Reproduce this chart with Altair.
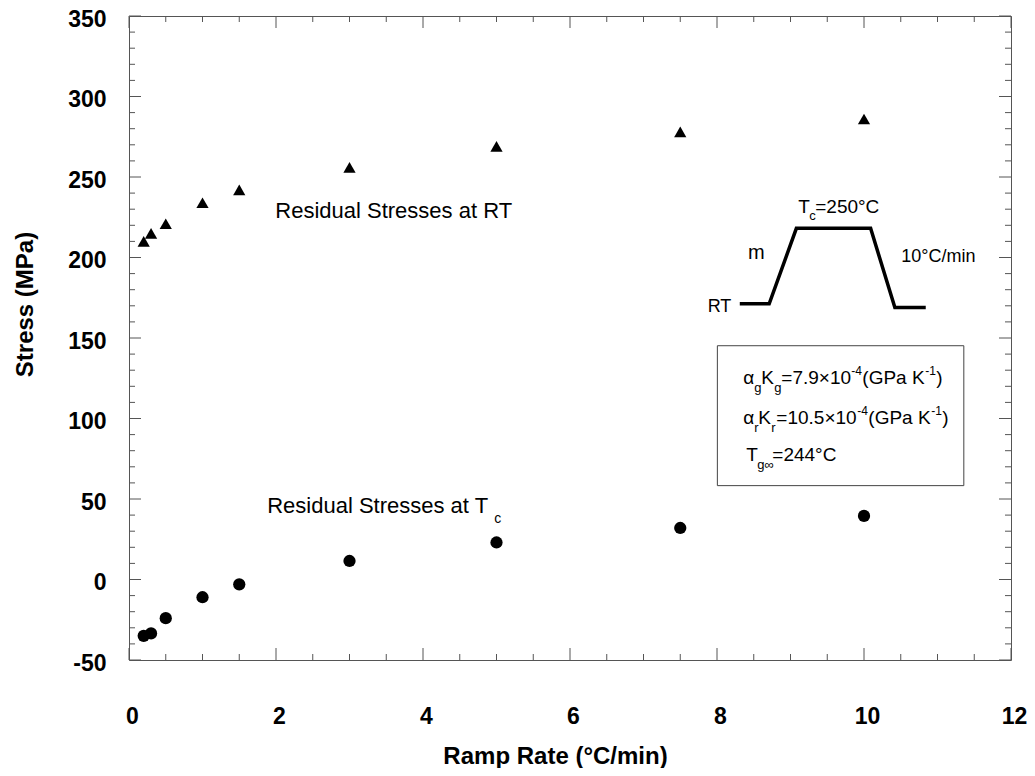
import altair as alt
import pandas as pd

# ---- data ----
rate = [0.2, 0.3, 0.5, 1.0, 1.5, 3.0, 5.0, 7.5, 10.0]
stress_rt = [210, 215, 221, 234, 242, 256, 269, 278, 286]
stress_tc = [-35, -33.5, -24, -11, -3, 11.5, 23, 32, 39.5]

x_major = [0, 2, 4, 6, 8, 10, 12]
x_minor = [0.5, 1, 1.5, 2.5, 3, 3.5, 4.5, 5, 5.5, 6.5, 7, 7.5, 8.5, 9, 9.5, 10.5, 11, 11.5]
y_major = [-50, 0, 50, 100, 150, 200, 250, 300, 350]
y_minor = [-40, -30, -20, -10, 10, 20, 30, 40, 60, 70, 80, 90, 110, 120, 130, 140,
           160, 170, 180, 190, 210, 220, 230, 240, 260, 270, 280, 290, 310, 320, 330, 340]

# inset schematic (temperature profile), in data units
sched_x = [8.31, 8.71, 9.08, 10.09, 10.42, 10.84]
sched_y = [171.2, 171.2, 218.1, 218.1, 168.9, 168.9]
box_x = [8.005, 11.358]
box_y = [58.3, 145.2]

W, H = 882, 644
FONT = "Liberation Sans"
TICK = "#555555"
xs = alt.Scale(domain=[0, 12], nice=False, zero=False)
ys = alt.Scale(domain=[-50, 350], nice=False, zero=False)

pts = pd.DataFrame({"rate": rate, "rt": stress_rt, "tc": stress_tc})

x_axis = alt.Axis(values=x_major, title="Ramp Rate (°C/min)", grid=False, ticks=False, tickSize=0,
                  domain=False, labelFont=FONT, labelFontSize=23, labelFontWeight="bold",
                  labelColor="black", labelPadding=45, labelOffset=3, labelFlush=False,
                  titleFont=FONT, titleFontSize=24, titleFontWeight="bold", titleColor="black",
                  titleX=426, titleY=103, titleBaseline="alphabetic", titleAlign="center")
y_axis = alt.Axis(values=y_major, title="Stress (MPa)", grid=False, ticks=False, tickSize=0,
                  domain=False, labelFont=FONT, labelFontSize=23, labelFontWeight="bold",
                  labelColor="black", labelPadding=23, labelOffset=3, labelFlush=False,
                  labelExpr="datum.value < 0 ? '-' + abs(datum.value) : '' + datum.value",
                  titleFont=FONT, titleFontSize=24, titleFontWeight="bold", titleColor="black",
                  titleX=-104, titleY=288, titleAngle=270, titleBaseline="middle", titleAlign="center")

tri = alt.Chart(pts).mark_point(shape="triangle-up", filled=True, size=150, color="black",
                                opacity=1, strokeWidth=0).encode(
    x=alt.X("rate:Q", scale=xs, axis=x_axis),
    y=alt.Y("rt:Q", scale=ys, axis=y_axis),
)
circ = alt.Chart(pts).mark_circle(size=150, color="black", opacity=1).encode(
    x=alt.X("rate:Q", scale=xs, axis=x_axis),
    y=alt.Y("tc:Q", scale=ys, axis=y_axis),
)

one = pd.DataFrame({"a": [0]})


def txt(s, x, y, size=19, dx=0, dy=0, align="left", weight="normal"):
    return alt.Chart(one).mark_text(
        text=s, align=align, baseline="alphabetic", dx=dx, dy=dy, fontSize=size,
        font=FONT, fontWeight=weight, color="black"
    ).encode(x=alt.XDatum(x, axis=x_axis, scale=xs), y=alt.YDatum(y, axis=y_axis, scale=ys))


def ticks_x(vals, y1, y2):
    return alt.Chart(pd.DataFrame({"v": vals})).mark_rule(color=TICK, strokeWidth=1).encode(
        x=alt.X("v:Q", scale=xs, axis=x_axis), y=alt.value(y1), y2=alt.value(y2))


def ticks_y(vals, x1, x2):
    return alt.Chart(pd.DataFrame({"v": vals})).mark_rule(color=TICK, strokeWidth=1).encode(
        y=alt.Y("v:Q", scale=ys, axis=y_axis), x=alt.value(x1), x2=alt.value(x2))


tick_layers = [
    ticks_x(x_major, H, H - 12), ticks_x(x_minor, H, H - 6),
    ticks_x(x_major, 0, 12), ticks_x(x_minor, 0, 6),
    ticks_y(y_major, 0, 12), ticks_y(y_minor, 0, 6),
    ticks_y(y_major, W, W - 12), ticks_y(y_minor, W, W - 6),
]

box = alt.Chart(one).mark_rect(fill="white", stroke="#444444", strokeWidth=1).encode(
    x=alt.XDatum(box_x[0], axis=x_axis, scale=xs), x2=alt.datum(box_x[1]),
    y=alt.YDatum(box_y[0], axis=y_axis, scale=ys), y2=alt.datum(box_y[1]),
)

sched = alt.Chart(pd.DataFrame({"sx": sched_x, "sy": sched_y, "o": list(range(len(sched_x)))})).mark_line(
    color="black", strokeWidth=3.5, strokeJoin="miter").encode(
    x=alt.X("sx:Q", scale=xs, axis=x_axis), y=alt.Y("sy:Q", scale=ys, axis=y_axis), order="o:Q")

L1, L2, L3, BX = 121.2, 96.4, 73.8, 8.358
texts = [
    txt("Residual Stresses at RT", 1.99, 224.3, size=22),
    txt("Residual Stresses at T", 1.88, 41.5, size=22),
    txt("c", 1.88, 41.5, size=14, dx=227, dy=10),
    # schematic labels
    txt("T", 9.105, 227.4),
    txt("c", 9.105, 227.4, size=13, dx=11, dy=7),
    txt("=250°C", 9.105, 227.4, dx=17),
    txt("m", 8.535, 198.9, size=20, align="center"),
    txt("10°C/min", 10.508, 197.4, size=18),
    txt("RT", 8.195, 166.4, size=18, align="right"),
    # box line 1
    txt("α", BX, L1),
    txt("g", BX, L1, size=13, dx=11, dy=8),
    txt("K", BX, L1, dx=18),
    txt("g", BX, L1, size=13, dx=31, dy=8),
    txt("=7.9×10", BX, L1, dx=38),
    txt("-4", BX, L1, size=12, dx=108, dy=-9),
    txt("(GPa K", BX, L1, dx=119),
    txt("-1", BX, L1, size=12, dx=182, dy=-9),
    txt(")", BX, L1, dx=193),
    # box line 2
    txt("α", BX, L2),
    txt("r", BX, L2, size=13, dx=11, dy=8),
    txt("K", BX, L2, dx=15),
    txt("r", BX, L2, size=13, dx=28, dy=8),
    txt("=10.5×10", BX, L2, dx=33),
    txt("-4", BX, L2, size=12, dx=114, dy=-9),
    txt("(GPa K", BX, L2, dx=125),
    txt("-1", BX, L2, size=12, dx=188, dy=-9),
    txt(")", BX, L2, dx=199),
    # box line 3
    txt("T", BX, L3, dx=3),
    txt("g∞", BX, L3, size=13, dx=14, dy=8),
    txt("=244°C", BX, L3, dx=29),
]

chart = alt.layer(tri, circ, box, sched, *tick_layers, *texts).properties(
    width=W, height=H,
    autosize=alt.AutoSizeParams(type="none"),
    padding={"left": 121, "top": 8, "right": 16, "bottom": 108},
    background="white",
).configure_view(stroke="#555555", strokeWidth=1)

chart.save("out.html", embed_options={"renderer": "svg", "actions": False})
